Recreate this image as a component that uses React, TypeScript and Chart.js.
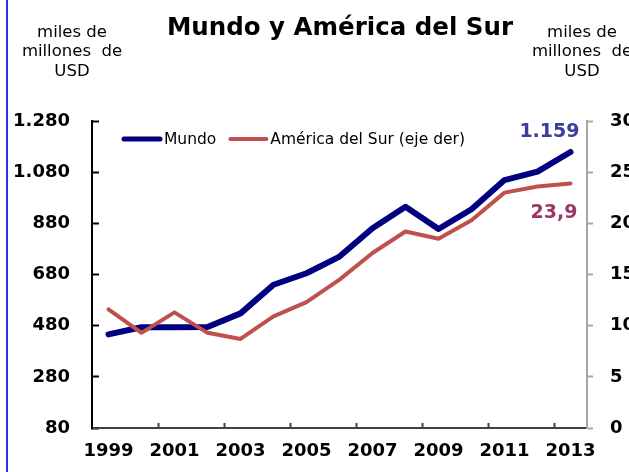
import React, { useEffect, useRef } from "react";
import { Chart, registerables } from "chart.js";

Chart.register(...registerables);

// ---- data ----
const years = ["1999", "2000", "2001", "2002", "2003", "2004", "2005", "2006", "2007", "2008", "2009", "2010", "2011", "2012", "2013"];
const mundo = [446, 474, 474, 475, 528, 640, 685, 750, 861, 945, 858, 935, 1049, 1082, 1159];
const americaSur = [11.6, 9.3, 11.3, 9.3, 8.7, 10.9, 12.3, 14.5, 17.1, 19.2, 18.5, 20.3, 23.0, 23.6, 23.9];
const leftAxis = { min: 80, max: 1280, step: 200 };
const rightAxis = { min: 0, max: 30, step: 5 };
const seriesNames = ["Mundo", "América del Sur (eje der)"];
const endLabels = ["1.159", "23,9"];
const titleText = "Mundo y América del Sur";
const unitLines = ["miles de", "millones  de", "USD"];

const FONT = '"DejaVu Sans", Verdana, sans-serif';

function fmtThousands(v: number): string {
  const n = Math.round(v);
  if (n >= 1000) {
    return Math.floor(n / 1000) + "." + String(n % 1000).padStart(3, "0");
  }
  return String(n);
}

const overlayPlugin = {
  id: "overlayPlugin",
  afterDatasetsDraw(chart: any) {
    const ctx = chart.ctx;
    const area = chart.chartArea;
    ctx.save();
    // legend inside plot area
    let x = area.left + 30;
    const y = area.top + 18;
    ctx.font = "15.5px " + FONT;
    ctx.textBaseline = "middle";
    ctx.textAlign = "left";
    chart.data.datasets.forEach((ds: any) => {
      ctx.strokeStyle = ds.borderColor;
      ctx.lineWidth = ds.borderWidth === 6 ? 5 : 4;
      ctx.lineCap = "round";
      ctx.beginPath();
      ctx.moveTo(x + 2, y);
      ctx.lineTo(x + 38, y);
      ctx.stroke();
      ctx.fillStyle = "#000";
      ctx.fillText(ds.label, x + 42, y + 1);
      x += 42 + ctx.measureText(ds.label).width + 12;
    });
    // end-value labels
    const xs = chart.scales.x;
    const last = years.length - 1;
    const px = xs.getPixelForValue(last);
    ctx.font = "bold 19px " + FONT;
    ctx.textAlign = "right";
    ctx.fillStyle = "#3B3BA0";
    const yb = chart.scales.y.getPixelForValue(mundo[last]);
    ctx.fillText(endLabels[0], px + 9, yb - 20);
    ctx.fillStyle = "#9B3768";
    const yr = chart.scales.y1.getPixelForValue(americaSur[last]);
    ctx.fillText(endLabels[1], px + 7, yr + 30);
    ctx.restore();
  },
};

export default function App() {
  const canvasRef = useRef<HTMLCanvasElement | null>(null);

  useEffect(() => {
    if (!canvasRef.current) return;
    const tickFont = { family: FONT, size: 18, weight: "bold" as const };
    const chart = new Chart(canvasRef.current, {
      type: "line",
      data: {
        labels: years,
        datasets: [
          {
            label: seriesNames[0],
            data: mundo,
            yAxisID: "y",
            borderColor: "#000080",
            backgroundColor: "#000080",
            borderWidth: 6,
            pointRadius: 0,
            tension: 0,
            borderCapStyle: "round",
            borderJoinStyle: "round",
            order: 1,
          },
          {
            label: seriesNames[1],
            data: americaSur,
            yAxisID: "y1",
            borderColor: "#C0504D",
            backgroundColor: "#C0504D",
            borderWidth: 4,
            pointRadius: 0,
            tension: 0,
            borderCapStyle: "round",
            borderJoinStyle: "round",
            order: 0,
          },
        ],
      },
      options: {
        responsive: false,
        animation: false,
        devicePixelRatio: 1,
        layout: { padding: { top: 121, left: 0, right: 0, bottom: 0 } },
        plugins: {
          legend: { display: false },
          tooltip: { enabled: false },
          title: { display: false },
        },
        scales: {
          x: {
            type: "category",
            offset: true,
            grid: {
              offset: true,
              drawOnChartArea: false,
              drawTicks: true,
              tickLength: -5,
              tickWidth: 2,
              tickColor: (c: any) =>
                typeof c.index === "number" && c.index > 0 && c.index % 2 === 0 && c.index < years.length
                  ? "#404040"
                  : "rgba(0,0,0,0)",
            },
            border: { display: true, color: "#404040", width: 2 },
            ticks: {
              autoSkip: false,
              maxRotation: 0,
              minRotation: 0,
              padding: 18,
              color: "#000",
              font: tickFont,
              callback: (_v: any, i: number) => (i % 2 === 0 ? years[i] : ""),
            },
            afterFit: (s: any) => {
              s.height = 44;
            },
          },
          y: {
            position: "left",
            min: leftAxis.min,
            max: leftAxis.max,
            grid: {
              drawOnChartArea: false,
              drawTicks: true,
              tickLength: -7,
              tickWidth: 2,
              tickColor: "#000",
            },
            border: { display: true, color: "#000", width: 2 },
            ticks: {
              stepSize: leftAxis.step,
              padding: 29,
              color: "#000",
              font: tickFont,
              callback: (v: any) => fmtThousands(Number(v)),
            },
            afterFit: (s: any) => {
              s.width = 92;
            },
          },
          y1: {
            position: "right",
            min: rightAxis.min,
            max: rightAxis.max,
            grid: {
              drawOnChartArea: false,
              drawTicks: true,
              tickLength: 6,
              tickWidth: 2,
              tickColor: "#A6A6A6",
            },
            border: { display: true, color: "#A6A6A6", width: 2 },
            ticks: {
              stepSize: rightAxis.step,
              padding: 17,
              color: "#000",
              font: tickFont,
              callback: (v: any) => String(v),
            },
            afterFit: (s: any) => {
              s.width = 42;
            },
          },
        },
      },
      plugins: [overlayPlugin],
    } as any);
    return () => chart.destroy();
  }, []);

  const unitStyle: React.CSSProperties = {
    position: "absolute",
    top: 21.5,
    width: 120,
    textAlign: "center",
    fontFamily: FONT,
    fontSize: 16.5,
    lineHeight: "19.5px",
    color: "#000",
    whiteSpace: "pre",
  };

  return (
    <div
      style={{
        position: "absolute",
        left: 0,
        top: 0,
        width: 629,
        height: 472,
        overflow: "hidden",
        background: "#fff",
      }}
    >
      <canvas ref={canvasRef} width={629} height={472} style={{ position: "absolute", left: 0, top: 0, width: 629, height: 472 }} />
      <div style={{ position: "absolute", left: 6, top: 0, width: 2, height: 472, background: "#2a2aff" }} />
      <div
        style={{
          position: "absolute",
          left: 0,
          top: 12,
          width: 680,
          textAlign: "center",
          fontFamily: FONT,
          fontWeight: "bold",
          fontSize: 24.5,
          lineHeight: "30px",
          color: "#000",
          whiteSpace: "nowrap",
        }}
      >
        {titleText}
      </div>
      <div style={{ ...unitStyle, left: 12 }}>
        {unitLines.map((l, i) => (
          <div key={i}>{l}</div>
        ))}
      </div>
      <div style={{ ...unitStyle, left: 522 }}>
        {unitLines.map((l, i) => (
          <div key={i}>{l}</div>
        ))}
      </div>
    </div>
  );
}
